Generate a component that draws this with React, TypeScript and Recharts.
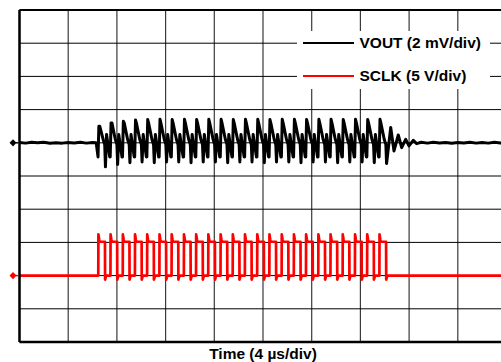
import { CartesianGrid, Line, LineChart, ReferenceDot, ReferenceLine, XAxis, YAxis } from "recharts";

// grid: 10 x 10 divisions, time axis in µs (4 µs/div)
const xTicks = [0, 4, 8, 12, 16, 20, 24, 28, 32, 36, 40];
const yTicks = [0, 1, 2, 3, 4, 5, 6, 7, 8, 9, 10];

// channel ground positions (in divisions from the bottom) and scales
const voutOffset = 6;
const voutPerDiv = 2; // mV/div
const sclkOffset = 2;
const sclkPerDiv = 5; // V/div

// SCLK edges (µs)
const sclkRise = [
  6.47, 7.47, 8.48, 9.48, 10.48, 11.49, 12.49, 13.5, 14.5, 15.5, 16.51, 17.51,
  18.51, 19.52, 20.52, 21.53, 22.53, 23.53, 24.54, 25.54, 26.54, 27.55, 28.55, 29.56,
];
const sclkFall = [
  7.02, 8.02, 9.03, 10.03, 11.03, 12.04, 13.04, 14.05, 15.05, 16.05, 17.06, 18.06,
  19.06, 20.07, 21.07, 22.08, 23.08, 24.08, 25.09, 26.09, 27.09, 28.1, 29.1, 30.11,
];
// SCLK levels (V)
const sclkOvershoot = 6.2;
const sclkHigh = 5.1;
const sclkUndershoot = -0.6;

// VOUT feedthrough per clock cycle (mV)
const voutPeak = [
  1.0, 1.2, 1.3, 1.38, 1.4, 1.42, 1.4, 1.42, 1.4, 1.42, 1.42, 1.4,
  1.42, 1.42, 1.4, 1.42, 1.42, 1.4, 1.42, 1.42, 1.4, 1.42, 1.4, 1.42,
];
const voutTrough = [
  -1.45, -1.3, -1.2, -1.15, -1.2, -1.15, -1.15, -1.2, -1.15, -1.15, -1.2, -1.15,
  -1.15, -1.2, -1.15, -1.15, -1.2, -1.15, -1.15, -1.2, -1.15, -1.15, -1.2, -1.25,
];
const voutShoulder = 1.2;
const voutSag = 0.2;
const voutMid = -0.1;
const voutRebound = 0.5;
const voutPreRise = -0.85;

// quiet baseline and ring-down (µs, mV)
const voutBefore = [
  [0, 0.02], [0.5, -0.02], [1.0, 0.03], [1.5, 0.0], [2.0, 0.03], [2.5, -0.03],
  [3.0, 0.01], [3.5, -0.02], [4.0, 0.02], [4.5, -0.01], [5.0, 0.03], [5.5, -0.02], [6.0, 0.02], [6.3, 0.0],
];
const voutRing = [
  [30.49, 0.92], [30.76, -0.49], [31.11, 0.47], [31.39, -0.29], [31.72, 0.21],
  [31.99, -0.19], [32.34, 0.15], [32.62, -0.05],
];
const voutAfter = [
  [33.0, 0.03], [33.5, -0.02], [34.0, 0.03], [34.5, -0.01], [35.0, 0.02], [35.5, -0.03],
  [36.0, 0.02], [36.5, -0.01], [37.0, 0.03], [37.5, -0.02], [38.0, 0.02], [38.5, -0.02],
  [39.0, 0.03], [39.5, -0.01], [40, 0.01],
];

const vout: { t: number; y: number }[] = [];
const pushV = (t: number, mv: number) => vout.push({ t, y: voutOffset + mv / voutPerDiv });
voutBefore.forEach(([t, v]) => pushV(t, v));
sclkRise.forEach((r, i) => {
  const f = sclkFall[i];
  pushV(r - 0.02, voutPreRise);
  pushV(r + 0.05, voutPeak[i]);
  pushV(r + 0.12, Math.min(voutShoulder, voutPeak[i]));
  pushV(r + 0.4, voutSag);
  pushV(f - 0.02, voutMid);
  pushV(f + 0.04, voutTrough[i]);
  if (i < sclkRise.length - 1) {
    pushV(f + 0.13, voutRebound);
    pushV(sclkRise[i + 1] - 0.06, voutPreRise);
  }
});
voutRing.forEach(([t, v]) => pushV(t, v));
voutAfter.forEach(([t, v]) => pushV(t, v));

const sclk: { t: number; y: number }[] = [];
const pushS = (t: number, v: number) => sclk.push({ t, y: sclkOffset + v / sclkPerDiv });
pushS(0, 0);
sclkRise.forEach((r, i) => {
  const f = sclkFall[i];
  pushS(r, 0);
  pushS(r + 0.01, sclkOvershoot);
  pushS(r + 0.08, sclkHigh + 0.3);
  pushS(r + 0.11, sclkHigh);
  pushS(f, sclkHigh);
  pushS(f + 0.01, sclkUndershoot);
  pushS(f + 0.1, 0);
});
pushS(40, 0);

const font = "Arial, 'Liberation Sans', sans-serif";

function Marker({ cx, cy, color }: { cx?: number; cy?: number; color: string }) {
  if (cx == null || cy == null) return null;
  return (
    <g>
      <polygon points={`${cx - 10},${cy} ${cx - 6.5},${cy - 3.6} ${cx - 3},${cy} ${cx - 6.5},${cy + 3.6}`} fill={color} />
      <line x1={cx - 4} x2={cx - 1} y1={cy} y2={cy} stroke={color} strokeWidth={1.5} />
    </g>
  );
}

const noTick = () => <g />;

export default function App() {
  return (
    <div style={{ position: "fixed", left: 0, top: 0, width: 501, height: 362, overflow: "hidden", background: "#fff" }}>
      <LineChart width={520} height={362} margin={{ top: 10, right: 13.5, bottom: 0, left: 18.5 }}>
        <CartesianGrid horizontal={false} stroke="#3a3a3a" strokeWidth={1.2} />
        <CartesianGrid vertical={false} stroke="#000" strokeWidth={1} />
        <XAxis
          type="number"
          dataKey="t"
          domain={[0, 40]}
          ticks={xTicks}
          allowDataOverflow
          height={20}
          tick={noTick}
          tickLine={false}
          axisLine={false}
          label={{
            position: "bottom",
            content: ({ viewBox }: any) => (
              <text x={viewBox.x + viewBox.width / 2} y={viewBox.y + 16.5} textAnchor="middle" fontFamily={font} fontWeight="bold" fontSize={15.5} fill="#000">
                Time (4 µs/div)
              </text>
            ),
          }}
        />
        <YAxis type="number" domain={[0, 10]} ticks={yTicks} allowDataOverflow width={1} tick={noTick} tickLine={false} axisLine={false} />
        <Line data={vout} dataKey="y" type="linear" stroke="#000" strokeWidth={3} strokeLinejoin="round" dot={false} isAnimationActive={false} />
        <Line data={sclk} dataKey="y" type="linear" stroke="#ff0000" strokeWidth={2.7} strokeLinejoin="round" dot={false} isAnimationActive={false} />
        <ReferenceLine x={0} stroke="#000" strokeWidth={2.5} />
        <ReferenceLine y={10} stroke="#000" strokeWidth={2} />
        <ReferenceLine y={0} stroke="#000" strokeWidth={2.5} />
        <ReferenceDot x={0} y={voutOffset} r={0} shape={(p: any) => <Marker cx={p.cx} cy={p.cy} color="#000" />} />
        <ReferenceDot x={0} y={sclkOffset} r={0} shape={(p: any) => <Marker cx={p.cx} cy={p.cy} color="#ff0000" />} />
      </LineChart>
      <div style={{ position: "absolute", left: 296.5, top: 31, width: 193.5, height: 58, background: "#fff", fontFamily: font, fontWeight: "bold", fontSize: 15.5 }}>
        {[
          { name: "VOUT (2 mV/div)", color: "#000", top: 12 },
          { name: "SCLK (5 V/div)", color: "#ff0000", top: 45 },
        ].map((e) => (
          <div key={e.name}>
            <div style={{ position: "absolute", left: 6.5, top: e.top - 1.25, width: 51, height: 2.5, background: e.color }} />
            <div style={{ position: "absolute", left: 63, top: e.top - 10, lineHeight: "20px", whiteSpace: "nowrap", color: "#000" }}>{e.name}</div>
          </div>
        ))}
      </div>
    </div>
  );
}
